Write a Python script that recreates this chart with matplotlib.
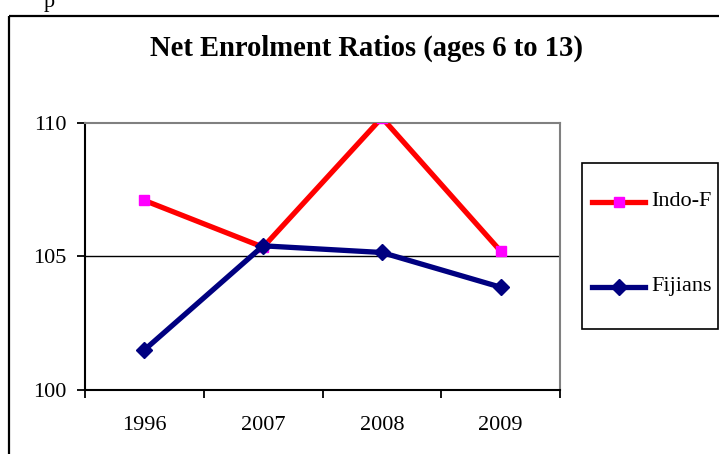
import matplotlib
matplotlib.use("Agg")
import matplotlib.pyplot as plt
from matplotlib.lines import Line2D
from matplotlib.patches import Rectangle
from matplotlib.transforms import Affine2D

plt.rcParams['font.family'] = ['Liberation Serif', 'DejaVu Serif']

years = ["1996", "2007", "2008", "2009"]
indo_f = [107.1, 105.35, 110.2, 105.2]
fijians = [101.5, 105.4, 105.15, 103.85]
y_ticks = [100, 105, 110]

W, H = 719, 454
fig = plt.figure(figsize=(W / 100, H / 100), dpi=100)
# pixel transform with origin at the top-left corner
px = Affine2D().scale(1 / W, -1 / H).translate(0, 1) + fig.transFigure

# outer chart frame
fig.add_artist(Rectangle((9, 15.5), 720, 450, transform=px, fill=False,
                         edgecolor='black', lw=1.6, clip_on=False))
fig.text(44, 7.5, "p", transform=px, fontsize=16, va='baseline', ha='left')

left, right, top, bottom = 85, 560, 123, 390
ax = fig.add_axes([left / W, 1 - bottom / H, (right - left) / W, (bottom - top) / H])

x = list(range(len(years)))
ax.axhline(105, color='black', lw=1.0, zorder=1)
ax.plot(x, indo_f, color='#FF0000', lw=3.8, marker='s', markersize=7.5,
        markerfacecolor='#FF00FF', markeredgecolor='#FF00FF', zorder=3,
        label='Indo-F')
ax.plot(x, fijians, color='#000080', lw=3.8, marker='D', markersize=8.5,
        markerfacecolor='#000080', markeredgecolor='#000080', zorder=4,
        label='Fijians')

ax.set_xlim(-0.5, len(years) - 0.5)
ax.set_ylim(100, 110)
ax.set_yticks(y_ticks)
ax.set_yticklabels([str(v) for v in y_ticks], fontsize=16)
ax.set_xticks([i - 0.5 for i in range(len(years) + 1)])
ax.set_xticklabels([])
ax.set_xticks(x, minor=True)
ax.set_xticklabels(years, minor=True, fontsize=16)
ax.tick_params(axis='x', which='major', direction='out', length=5.5, width=1.3)
ax.tick_params(axis='x', which='minor', length=0, pad=19)
ax.tick_params(axis='y', direction='out', length=5.5, width=1.3, pad=8)

for s in ('left', 'bottom'):
    ax.spines[s].set_color('black')
    ax.spines[s].set_linewidth(1.5)
for s in ('top', 'right'):
    ax.spines[s].set_color('#808080')
    ax.spines[s].set_linewidth(1.5)

fig.text(367, 48, "Net Enrolment Ratios (ages 6 to 13)", transform=px,
         fontsize=20.6, fontweight='bold', ha='center', va='center')

# legend box
fig.add_artist(Rectangle((581.5, 162.5), 136, 166, transform=px, fill=False,
                         edgecolor='black', lw=1.2))
entries = [(202, 'Indo-F', '#FF0000', 's', '#FF00FF', 7.5),
           (287, 'Fijians', '#000080', 'D', '#000080', 8.5)]
for ypos, lab, col, mk, mcol, ms in entries:
    fig.add_artist(Line2D([592, 645], [ypos, ypos], transform=px, color=col, lw=3.8))
    fig.add_artist(Line2D([618.5], [ypos], transform=px, marker=mk, markersize=ms,
                          markerfacecolor=mcol, markeredgecolor=mcol, lw=0))
    fig.text(651, ypos, lab, transform=px, fontsize=16, ha='left', va='center')

fig.savefig("out.png", dpi=100)
